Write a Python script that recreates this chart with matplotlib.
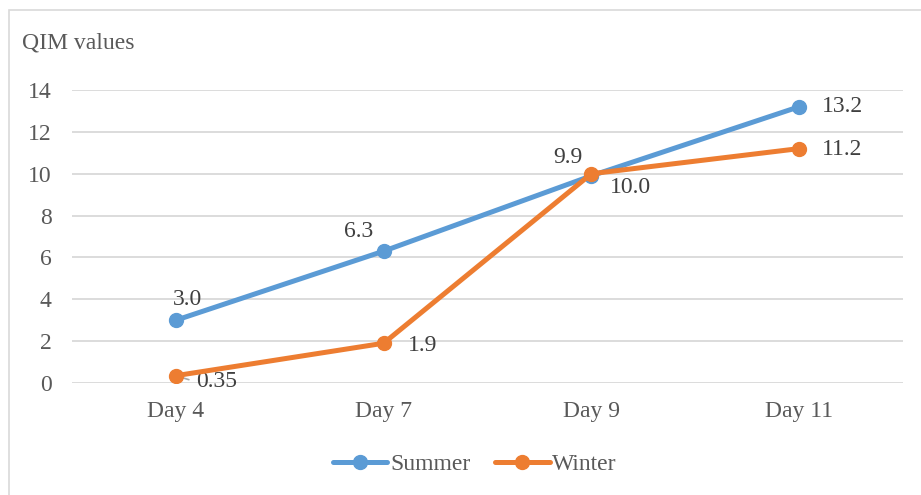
import matplotlib
matplotlib.use("Agg")
import matplotlib.pyplot as plt
from matplotlib.patches import Rectangle

categories = ["Day 4", "Day 7", "Day 9", "Day 11"]
summer = [3.0, 6.3, 9.9, 13.2]
winter = [0.35, 1.9, 10.0, 11.2]
summer_labels = ["3.0", "6.3", "9.9", "13.2"]
winter_labels = ["0.35", "1.9", "10.0", "11.2"]
y_ticks = [0, 2, 4, 6, 8, 10, 12, 14]

BLUE = "#5B9BD5"
ORANGE = "#ED7D31"
TEXT = "#595959"
GRID = "#D9D9D9"

plt.rcParams["font.family"] = ["Liberation Serif", "DejaVu Serif"]
FS = 17

fig = plt.figure(figsize=(9.21, 4.95), dpi=100)
ax = fig.add_axes([72 / 921, 1 - 383 / 495, (903 - 72) / 921, (383 - 90) / 495])

# chart frame
fig.patches.append(Rectangle((9 / 921, -0.1), 1.2, 1 - 10 / 495 + 0.1,
                             transform=fig.transFigure, fill=False,
                             edgecolor=GRID, linewidth=1.2))

x = list(range(len(categories)))
ax.plot(x, summer, color=BLUE, lw=3.6, marker="o", ms=10, label="Summer",
        solid_capstyle="round", zorder=3)
ax.plot(x, winter, color=ORANGE, lw=3.6, marker="o", ms=10, label="Winter",
        solid_capstyle="round", zorder=4)

ax.set_xlim(-0.5, len(categories) - 0.5)
ax.set_ylim(0, 14)
ax.set_yticks(y_ticks)
ax.set_xticks(x)
ax.set_xticklabels(categories)
ax.yaxis.grid(True, color=GRID, lw=1.3)
ax.set_axisbelow(True)
for s in ax.spines.values():
    s.set_visible(False)
ax.tick_params(axis="both", length=0, labelsize=FS, colors=TEXT)
ax.tick_params(axis="y", pad=14.5)
ax.tick_params(axis="x", pad=13)

# data labels (offsets in pixels)
s_off = [(12, 21, "center"), (-25, 20, "center"), (-24, 18, "center"), (23, 0, "left")]
w_off = [(20, -6, "left"), (24, -2, "left"), (19, -14, "left"), (23, -1, "left")]
for xi, v, t, (dx, dy, ha) in zip(x, summer, summer_labels, s_off):
    ax.annotate(t, (xi, v), xytext=(dx, dy), textcoords="offset pixels",
                ha=ha, va="center", fontsize=FS, color="#404040")
for xi, v, t, (dx, dy, ha) in zip(x, winter, winter_labels, w_off):
    ax.annotate(t, (xi, v), xytext=(dx, dy), textcoords="offset pixels",
                ha=ha, va="center", fontsize=FS, color="#404040")

# leader line for the first winter label
ax.annotate("", (x[0], winter[0]), xytext=(13, -4), textcoords="offset pixels",
            arrowprops=dict(arrowstyle="-", color="#A6A6A6", lw=1.2,
                            shrinkA=0, shrinkB=0), zorder=2)

fig.text(22 / 921, 1 - 43 / 495, "QIM values", fontsize=FS, color=TEXT,
         ha="left", va="center")

leg = fig.legend(loc="center", bbox_to_anchor=(475 / 921, 1 - 464 / 495),
                 ncol=2, frameon=False, fontsize=FS, handlelength=2.3,
                 handletextpad=0.12, columnspacing=1.05)
for t in leg.get_texts():
    t.set_color(TEXT)

fig.savefig("out.png", dpi=100)
